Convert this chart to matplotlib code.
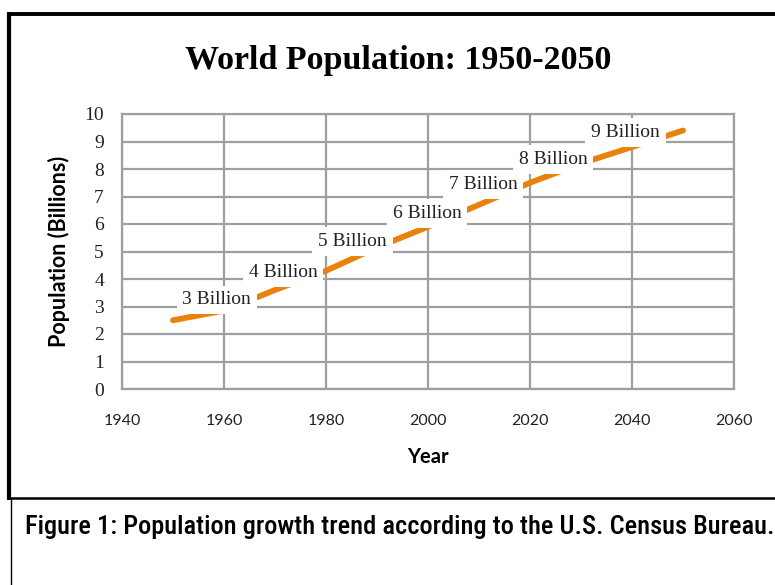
import matplotlib
matplotlib.use("Agg")
import matplotlib.pyplot as plt
from matplotlib.lines import Line2D

# ---- data ----
years = [1950, 1960, 1970, 1980, 1990, 2000, 2010, 2020, 2030, 2040, 2050]
population = [2.5, 2.85, 3.6, 4.3, 5.15, 5.9, 6.7, 7.5, 8.2, 8.8, 9.4]
label_texts = ["3 Billion", "4 Billion", "5 Billion", "6 Billion",
               "7 Billion", "8 Billion", "9 Billion"]
label_years = [1958.6, 1971.6, 1985.2, 1999.8, 2010.8, 2024.5, 2038.7]
label_values = [3.24, 4.22, 5.36, 6.39, 7.44, 8.35, 9.33]
x_ticks = [1940, 1960, 1980, 2000, 2020, 2040, 2060]
y_ticks = [0, 1, 2, 3, 4, 5, 6, 7, 8, 9, 10]

W, H = 775, 585
fig = plt.figure(figsize=(W / 100, H / 100), dpi=100)
fig.patch.set_facecolor("white")

def fx(px):
    return px / W

def fy(py):
    return 1 - py / H

ax = fig.add_axes([fx(122), fy(389), fx(734) - fx(122), fy(114) - fy(389)])
grid_c = "#9f9f9f"
ax.plot(years, population, color="#E8820C", lw=4.2, solid_capstyle="round", zorder=3)
ax.set_xlim(1940, 2060)
ax.set_ylim(0, 10)
ax.set_xticks(x_ticks)
ax.set_yticks(y_ticks)
ax.grid(True, color=grid_c, lw=1.6, zorder=1)
ax.set_axisbelow(True)
for s in ax.spines.values():
    s.set_color(grid_c)
    s.set_linewidth(1.6)
ax.tick_params(axis="both", length=0)
ax.tick_params(axis="y", pad=13)
ax.tick_params(axis="x", pad=18)
for t in ax.get_yticklabels():
    t.set_fontfamily(["Liberation Serif", "DejaVu Serif"])
    t.set_fontsize(14)
    t.set_color("#222222")
for t in ax.get_xticklabels():
    t.set_fontfamily(["Lato", "DejaVu Sans"])
    t.set_fontsize(11.5)
    t.set_color("#222222")

for txt, xv, yv in zip(label_texts, label_years, label_values):
    ax.text(xv, yv, txt, ha="center", va="center", fontsize=14,
            family=["Liberation Serif", "DejaVu Serif"], color="#222222", zorder=5,
            bbox=dict(boxstyle="square,pad=0.3", fc="white", ec="none"))

ax.set_xlabel("Year", fontsize=14.5, fontweight="bold",
              family=["Lato", "DejaVu Sans"], labelpad=14)
ax.set_ylabel("Population (Billions)", fontsize=15.5, fontweight="bold",
              family=["Lato", "DejaVu Sans"], labelpad=10)

fig.text(fx(398), fy(61), "World Population: 1950-2050", ha="center", va="center",
         fontsize=24.5, fontweight="bold", family=["Liberation Serif", "DejaVu Serif"])

fig.text(fx(25), fy(527), "Figure 1: Population growth trend according to the U.S. Census Bureau.",
         ha="left", va="center", fontsize=19, fontweight="medium",
         family=["Roboto Condensed", "Roboto", "DejaVu Sans"])

# borders
fig.add_artist(Line2D([fx(7), fx(775)], [fy(13.5), fy(13.5)], transform=fig.transFigure,
                      color="black", lw=2.8, solid_capstyle="butt"))
fig.add_artist(Line2D([fx(9), fx(9)], [fy(12), fy(500)], transform=fig.transFigure,
                      color="black", lw=3.0, solid_capstyle="butt"))
fig.add_artist(Line2D([fx(7), fx(775)], [fy(498), fy(498)], transform=fig.transFigure,
                      color="black", lw=1.8, solid_capstyle="butt"))
fig.add_artist(Line2D([fx(11), fx(11)], [fy(498), fy(585)], transform=fig.transFigure,
                      color="black", lw=1.0, solid_capstyle="butt"))

fig.savefig("out.png", dpi=100, facecolor="white")
